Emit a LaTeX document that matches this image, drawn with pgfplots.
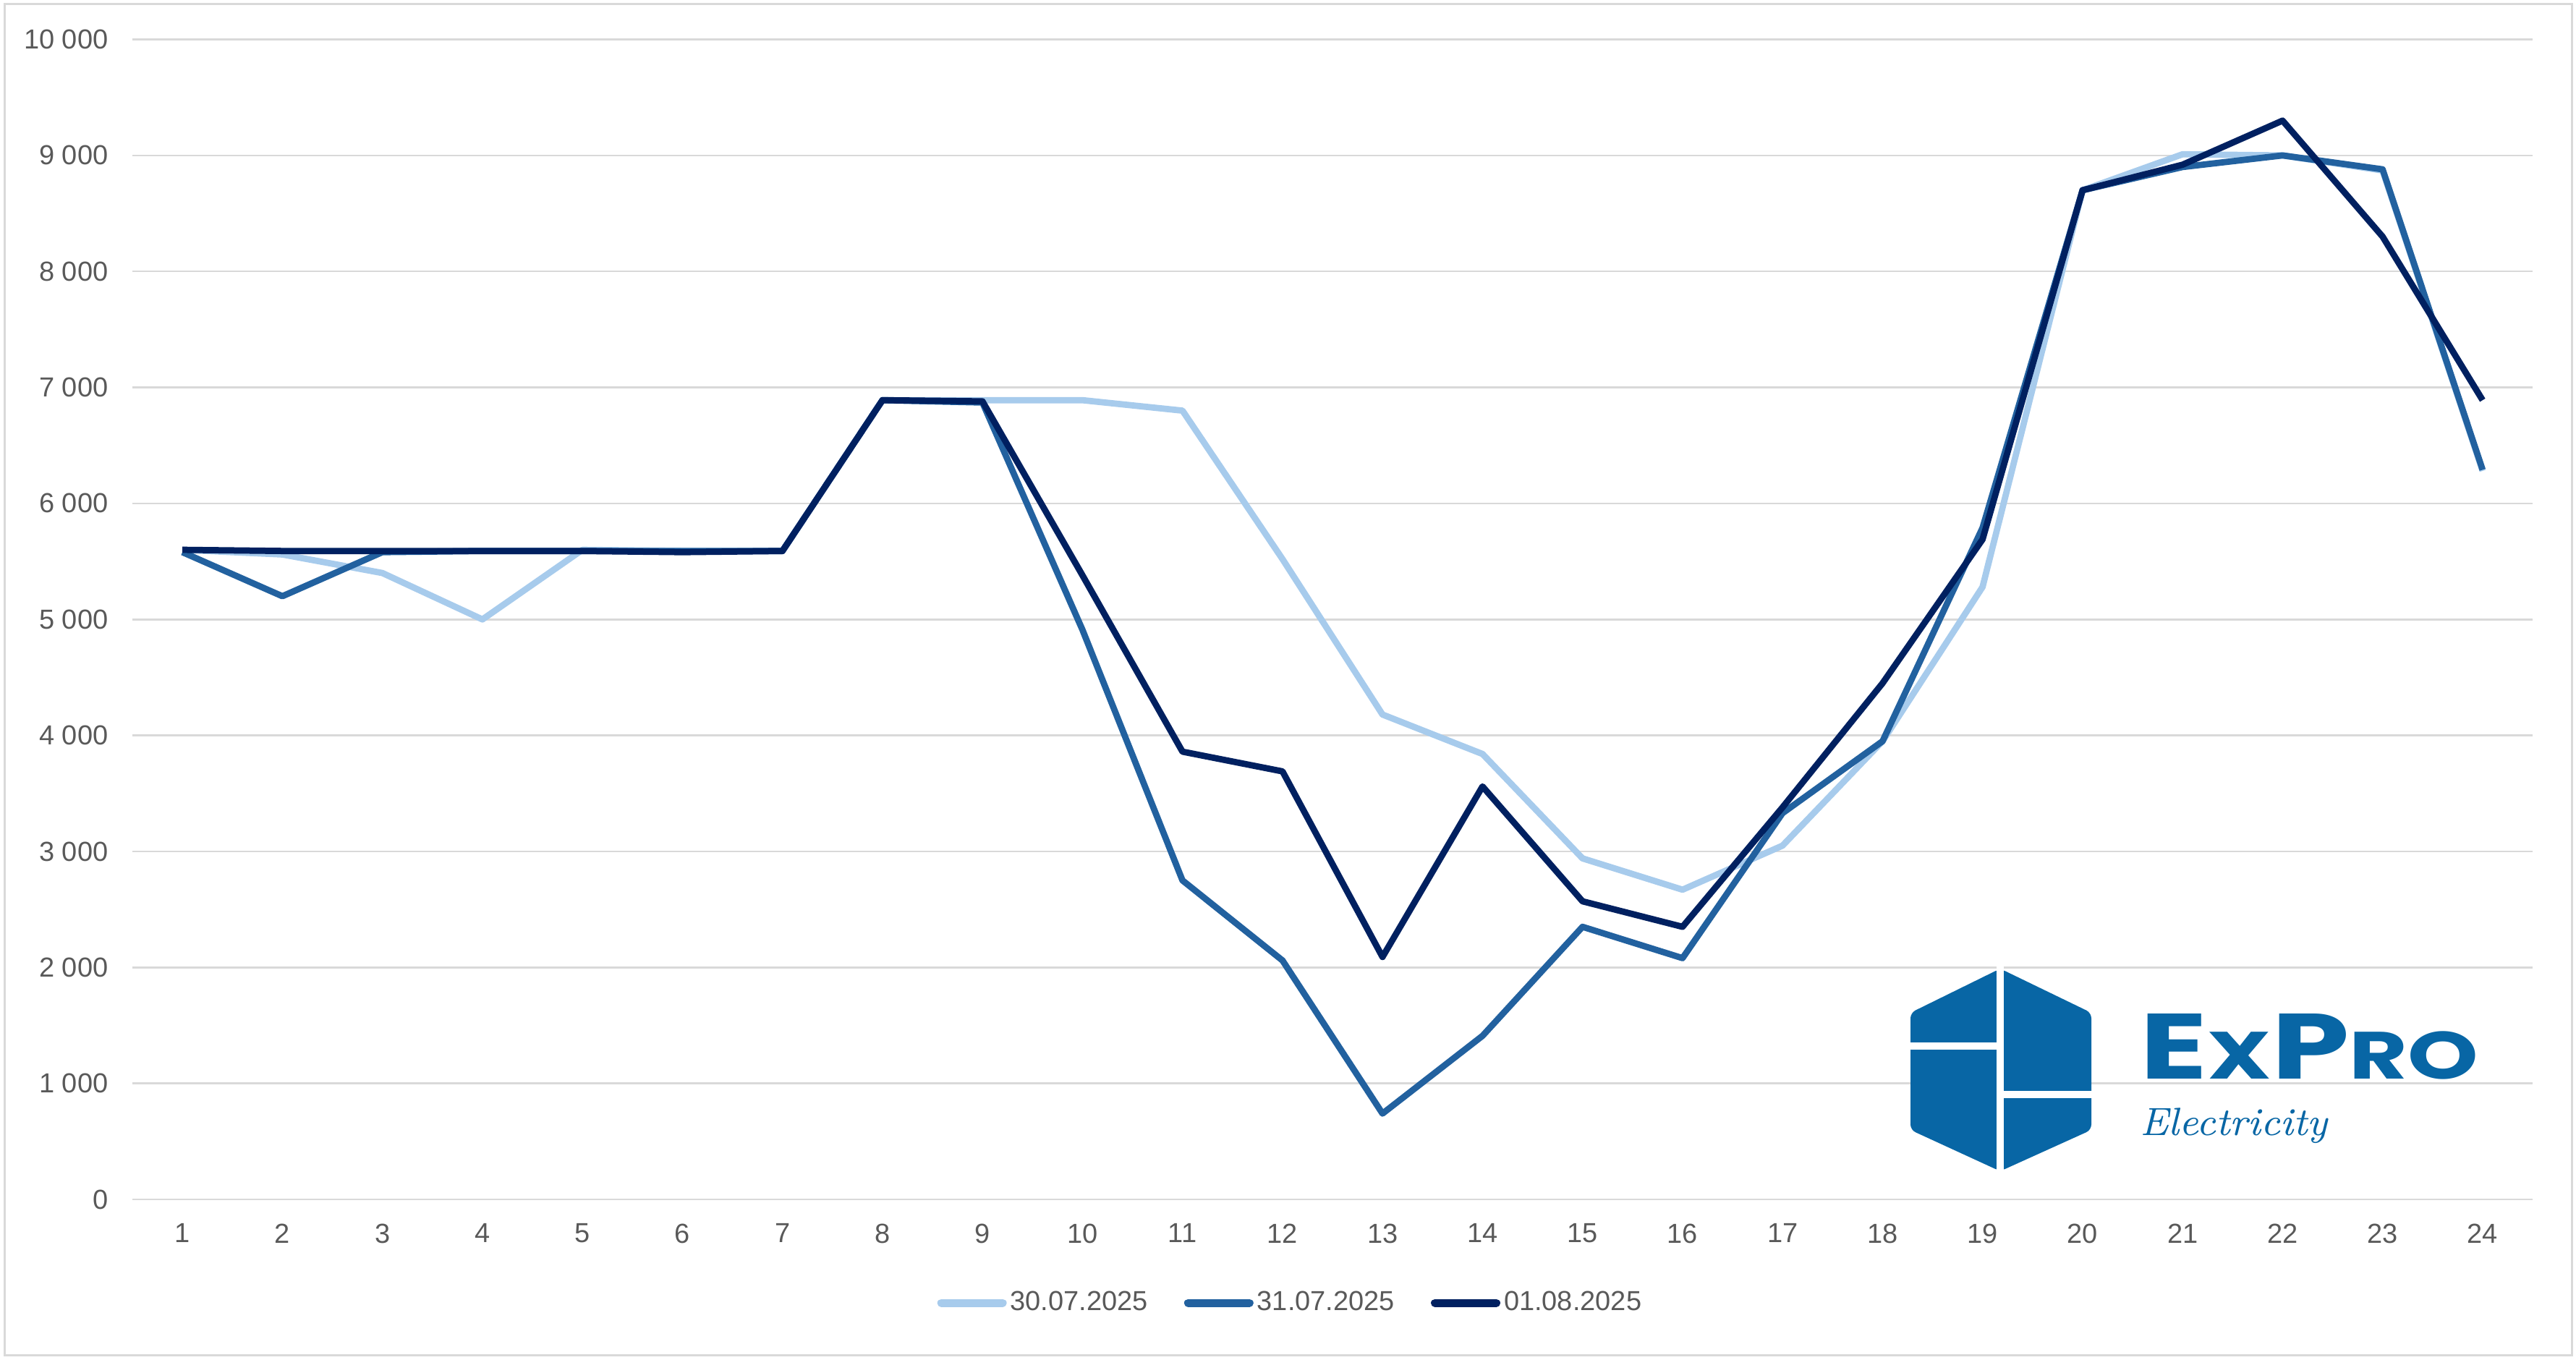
\documentclass[border=0pt]{standalone}
\usepackage{fontspec}
\setmainfont{Liberation Sans}
\newfontfamily\logofont{Poppins}
\usepackage{graphicx}
\usepackage{pgfplots}
\pgfplotsset{compat=1.18}
\definecolor{cLight}{HTML}{A7CBEC}
\definecolor{cMed}{HTML}{22619F}
\definecolor{cDark}{HTML}{002060}
\definecolor{cGrid}{HTML}{D9D9D9}
\definecolor{cText}{HTML}{595959}
\definecolor{cLogo}{HTML}{0866A5}
\begin{document}
\fontsize{7.6}{9}\selectfont
\begin{tikzpicture}
\path[use as bounding box] (0,0) rectangle (712.2pt,375.8pt);
\draw[cGrid, line width=0.6pt] (1.2pt,1.2pt) rectangle (711pt,374.6pt);
\begin{axis}[
  at={(36.6pt,44.2pt)}, anchor=south west, scale only axis,
  width=663.6pt, height=320.7pt,
  xmin=0.5, xmax=24.5, ymin=0, ymax=10000,
  xtick={1,...,24}, ytick={0,1000,...,10000},
  scaled y ticks=false,
  ymajorgrids, grid style={cGrid, line width=0.5pt},
  axis line style={draw=none}, major tick length=0pt,
  tick label style={font=\fontsize{7.6}{9}\selectfont, text=cText},
  yticklabel style={xshift=-4pt},
  xticklabel style={yshift=-4pt},
  legend style={at={(0.4828,-0.0892)}, anchor=center, draw=none, fill=none,
    legend columns=3, font=\fontsize{7.6}{9}\selectfont, text=cText,
    /tikz/every even column/.append style={column sep=9pt},
    nodes={inner xsep=1pt}},
  legend image code/.code={\draw[#1, line width=2.2pt, line cap=round] (0pt,0pt) -- (17pt,0pt);},
  /pgf/number format/1000 sep={\ },
  /pgf/number format/assume math mode=true,
]
\addplot[cLight, line width=1.75pt, line join=round] coordinates {
(1,5600)(2,5560)(3,5400)(4,5000)(5,5600)(6,5590)(7,5590)(8,6890)(9,6890)(10,6890)(11,6800)(12,5520)
(13,4180)(14,3840)(15,2940)(16,2670)(17,3050)(18,3950)(19,5280)(20,8700)(21,9010)(22,9000)(23,8870)(24,6280)};
\addlegendentry{30.07.2025}
\addplot[cMed, line width=1.75pt, line join=round] coordinates {
(1,5580)(2,5200)(3,5580)(4,5590)(5,5590)(6,5590)(7,5590)(8,6890)(9,6870)(10,4910)(11,2750)(12,2060)
(13,740)(14,1410)(15,2350)(16,2080)(17,3330)(18,3950)(19,5790)(20,8700)(21,8900)(22,9000)(23,8880)(24,6290)};
\addlegendentry{31.07.2025}
\addplot[cDark, line width=1.75pt, line join=round] coordinates {
(1,5600)(2,5590)(3,5590)(4,5590)(5,5590)(6,5580)(7,5590)(8,6890)(9,6880)(10,5380)(11,3860)(12,3690)
(13,2090)(14,3560)(15,2570)(16,2350)(17,3380)(18,4450)(19,5690)(20,8700)(21,8920)(22,9300)(23,8300)(24,6890)};
\addlegendentry{01.08.2025}
\end{axis}
% logo
\fill[cLogo, rounded corners=1.5pt] (528.2pt,95.8pt) -- (553pt,108pt) -- (578.2pt,95.8pt) -- (578.2pt,63.4pt) -- (553pt,52pt) -- (528.2pt,63.4pt) -- cycle;
\draw[white, line width=2pt] (553pt,110pt) -- (553pt,50pt);
\draw[white, line width=2pt] (527pt,86.6pt) -- (553pt,86.6pt);
\draw[white, line width=2pt] (553pt,73.2pt) -- (579.5pt,73.2pt);
\node[anchor=base west, inner sep=0pt, text=cLogo] at (591.4pt,77.5pt)
  {\resizebox{93.6pt}{18pt}{\logofont\bfseries E\scalebox{0.72}{X}P\scalebox{0.72}{RO}}};
\node[anchor=base west, inner sep=0pt, text=cLogo] at (591.4pt,62pt)
  {\resizebox{52pt}{!}{\fontfamily{lmr}\itshape Electricity}};
\end{tikzpicture}
\end{document}
